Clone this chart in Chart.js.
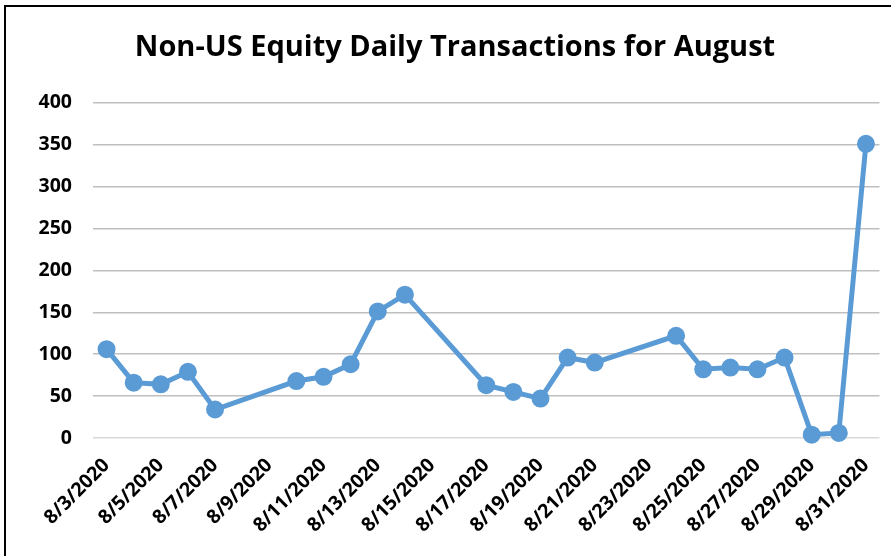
<!DOCTYPE html>
<html>
<head>
<meta charset="utf-8">
<script src="https://cdn.jsdelivr.net/npm/chart.js@4.4.1/dist/chart.umd.min.js"></script>
<style>
  body { margin: 0; background: #fff; overflow: hidden; }
  #frame {
    position: absolute; left: 4px; top: 5px; width: 1000px; height: 1000px;
    border-top: 2.5px solid #000; border-left: 2.5px solid #000;
  }
  #wrap { position: absolute; left: 0; top: 0; width: 891px; height: 556px; }
</style>
</head>
<body>
<div id="frame"></div>
<div id="wrap"><canvas id="txChart" width="891" height="556"></canvas></div>
<script>
// trading days in August, weekends left empty so the line bridges them
var days = ['8/3/2020', '8/4/2020', '8/5/2020', '8/6/2020', '8/7/2020', '8/8/2020', '8/9/2020',
    '8/10/2020', '8/11/2020', '8/12/2020', '8/13/2020', '8/14/2020', '8/15/2020', '8/16/2020',
    '8/17/2020', '8/18/2020', '8/19/2020', '8/20/2020', '8/21/2020', '8/22/2020', '8/23/2020',
    '8/24/2020', '8/25/2020', '8/26/2020', '8/27/2020', '8/28/2020', '8/29/2020', '8/30/2020',
    '8/31/2020'];
var transactions = [106, 66, 64, 79, 34, null, null,
    68, 73, 88, 151, 171, null, null,
    63, 55, 47, 96, 90, null, null,
    122, 82, 84, 82, 96, 4, 6,
    351];
var yTicks = [0, 50, 100, 150, 200, 250, 300, 350, 400];

var tickFont = { family: "'Open Sans', sans-serif", size: 19.5, weight: 'bold' };

new Chart(document.getElementById('txChart'), {
    type: 'line',
    data: {
        labels: days,
        datasets: [{
            data: transactions,
            borderColor: '#5B9BD5',
            backgroundColor: '#5B9BD5',
            pointBackgroundColor: '#5B9BD5',
            pointBorderColor: '#5B9BD5',
            borderWidth: 5,
            pointRadius: 6.5,
            tension: 0,
            spanGaps: true,
            clip: false
        }]
    },
    options: {
        responsive: false,
        animation: false,
        layout: { padding: { left: 29, right: 10, top: 0, bottom: 0 } },
        plugins: {
            legend: { display: false },
            tooltip: { enabled: false },
            title: {
                display: true,
                text: 'Non-US Equity Daily Transactions for August',
                color: '#000',
                font: { family: "'Open Sans', sans-serif", size: 29, weight: 'bold', lineHeight: 1.2 },
                padding: { top: 30, bottom: 38 }
            }
        },
        scales: {
            x: {
                offset: true,
                grid: { display: false },
                border: { display: false },
                ticks: {
                    autoSkip: false,
                    minRotation: 45,
                    maxRotation: 45,
                    padding: 8,
                    color: '#000',
                    font: tickFont,
                    callback: function (v, i) {
                        return i % 2 === 0 ? days[i] : '';
                    }
                },
                afterFit: function (scale) { scale.height = 118; }
            },
            y: {
                min: yTicks[0],
                max: yTicks[yTicks.length - 1],
                afterBuildTicks: function (scale) {
                    scale.ticks = yTicks.map(function (v) { return { value: v }; });
                },
                grid: {
                    drawTicks: false,
                    lineWidth: 1.5,
                    color: function (c) { return c.tick && c.tick.value === 0 ? '#D9D9D9' : '#BFBFBF'; }
                },
                border: { display: false },
                ticks: { padding: 21, color: '#000', font: tickFont },
                afterFit: function (scale) { scale.width = 64; }
            }
        }
    }
});
</script>
</body>
</html>
